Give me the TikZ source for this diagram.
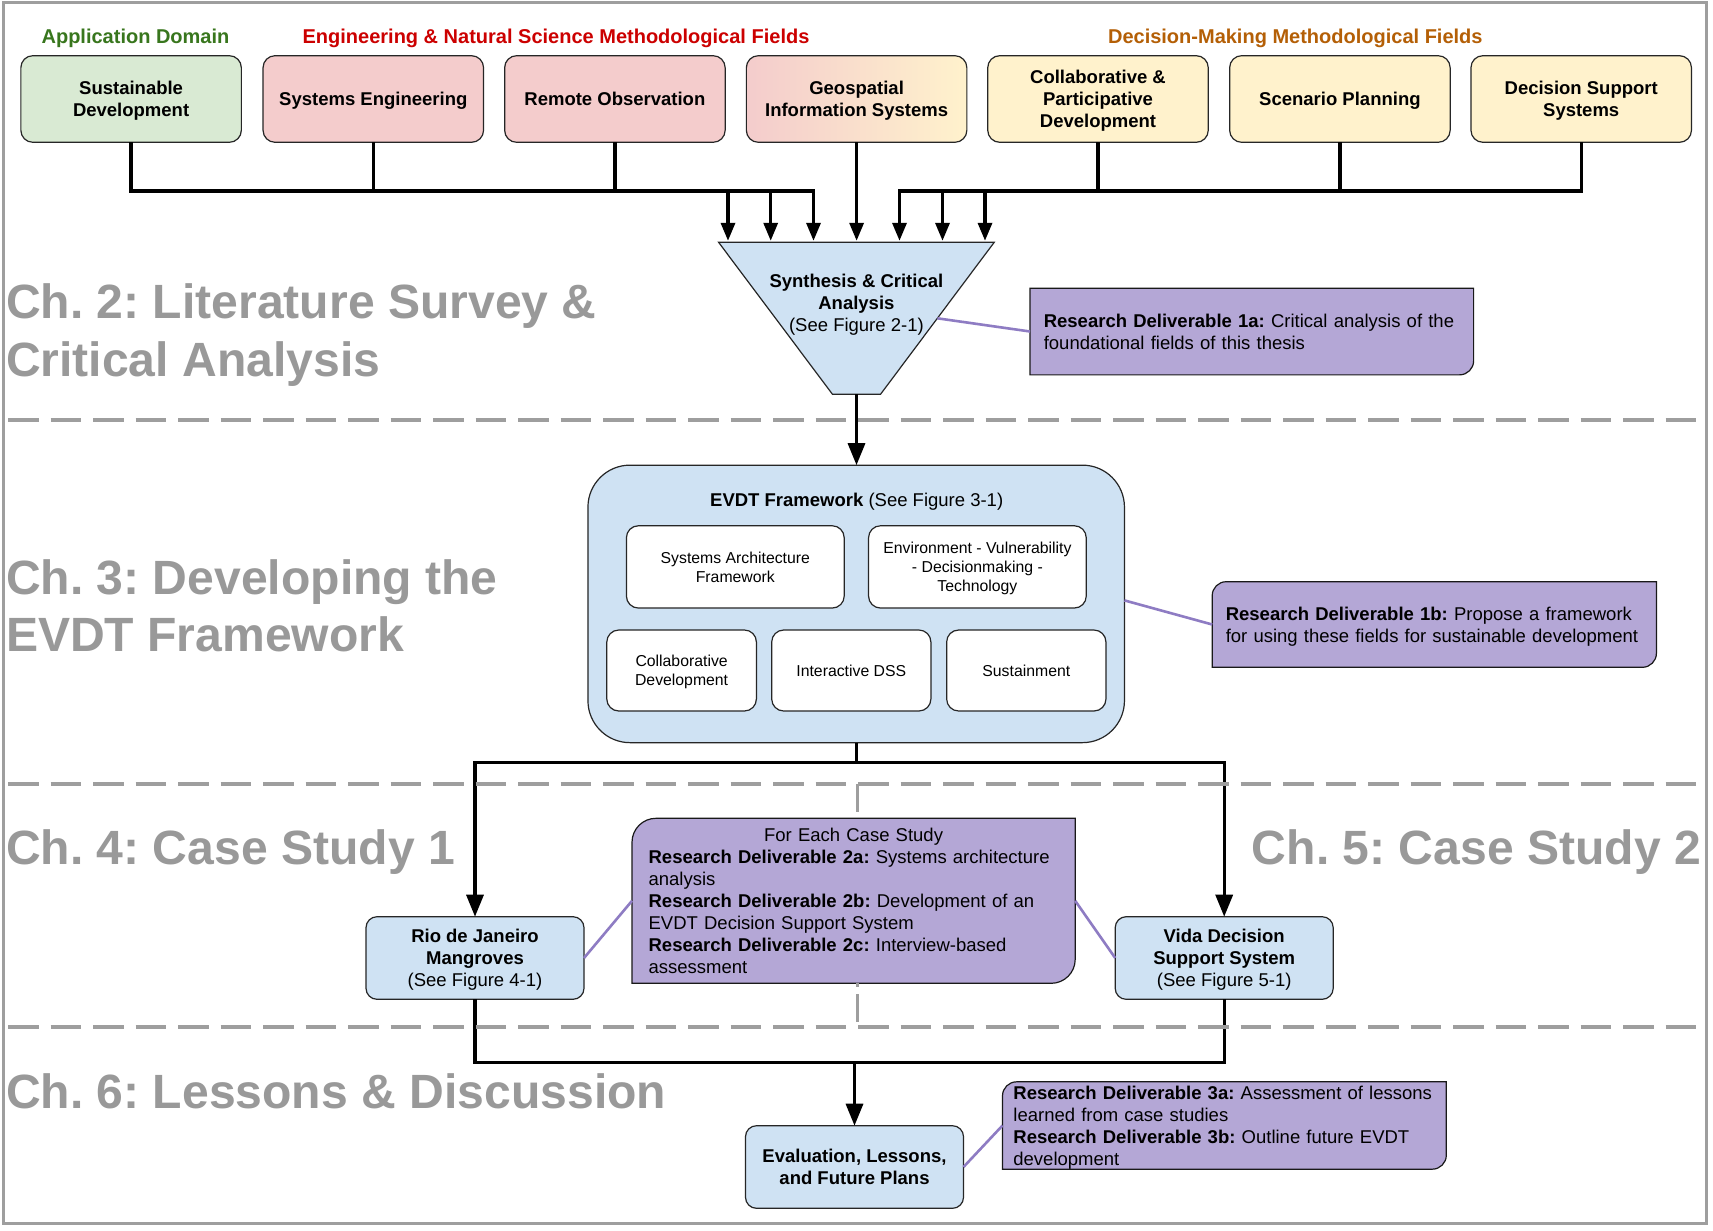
\documentclass[tikz,border=0pt]{standalone}
\usepackage{fontspec}
\setmainfont{Liberation Sans}
\usetikzlibrary{arrows.meta,calc}
\definecolor{greenfill}{HTML}{D9EAD3}
\definecolor{pinkfill}{HTML}{F4CCCC}
\definecolor{yellowfill}{HTML}{FFF2CC}
\definecolor{bluefill}{HTML}{CFE2F3}
\definecolor{purplefill}{HTML}{B4A7D6}
\definecolor{purpleline}{HTML}{8E7CC3}
\definecolor{titlegray}{HTML}{999999}
\definecolor{dashgray}{HTML}{9E9E9E}
\definecolor{headgreen}{HTML}{38761D}
\definecolor{headred}{HTML}{CC0000}
\definecolor{headorange}{HTML}{B45F06}
\pgfdeclarelayer{bg}
\pgfsetlayers{bg,main}
\frenchspacing
\begin{document}
\frenchspacing
\begin{tikzpicture}[x=1pt,y=-1pt,
 every node/.style={outer sep=0pt},
 topbox/.style={draw=black!85, line width=1.2pt, rounded corners=12pt, minimum width=220.5pt, minimum height=86.6pt, align=center, font=\bfseries\fontsize{18.5}{22}\selectfont, inner sep=0pt, text depth=0pt},
 head/.style={anchor=base, inner sep=0pt, font=\bfseries\fontsize{20}{24}\selectfont},
 chap/.style={anchor=base west, inner sep=0pt, text=titlegray, font=\bfseries\fontsize{48.1}{57}\selectfont},
 bluebox/.style={draw=black!85, line width=1.2pt, rounded corners=11pt, fill=bluefill, minimum width=218pt, minimum height=82.6pt, align=center, font=\fontsize{18.5}{22}\selectfont, inner sep=0pt, text depth=0pt},
 subbox/.style={draw=black!85, line width=1.2pt, rounded corners=12pt, fill=white, align=center, font=\fontsize{15.8}{19}\selectfont, inner sep=0pt, text depth=0pt},
 pnode/.style={inner sep=0pt, align=left, font=\fontsize{18.5}{22}\selectfont},
 pshape/.style={draw=black!90, line width=1.2pt, fill=purplefill},
 conn/.style={line width=3.3pt, draw=black},
 arrT/.style={conn, -{Triangle[length=18pt,width=14pt]}, shorten >=1.5pt},
 arrB/.style={conn, -{Triangle[length=22pt,width=17pt]}},
 pline/.style={line width=2.6pt, draw=purpleline},
 dashline/.style={line width=4pt, draw=dashgray, dash pattern=on 30.5pt off 12pt},
 vdash/.style={line width=3pt, draw=dashgray, dash pattern=on 28pt off 7pt},
]
\begin{pgfonlayer}{bg}
\fill[white] (0,0) rectangle (1713,1231);
\end{pgfonlayer}
\useasboundingbox (0,0) rectangle (1713,1231);

% headers
\node[head, text=headgreen] (h1) at (135.5,44) {Application Domain};
\node[head, text=headred] (h2) at (556,44) {Engineering \& Natural Science Methodological Fields};
\node[head, text=headorange] (h3) at (1295.3,44) {Decision-Making Methodological Fields};

% top boxes
\node[topbox, fill=greenfill] (b1) at (131.1,99) {Sustainable\\Development};
\node[topbox, fill=pinkfill] (b2) at (373.3,99) {Systems Engineering};
\node[topbox, fill=pinkfill] (b3) at (614.9,99) {Remote Observation};
\node[topbox, left color=pinkfill, right color=yellowfill] (b4) at (856.6,99) {Geospatial\\Information Systems};
\node[topbox, fill=yellowfill] (b5) at (1098,99) {Collaborative \&\\Participative\\Development};
\node[topbox, fill=yellowfill] (b6) at (1339.9,99) {Scenario Planning};
\node[topbox, fill=yellowfill] (b7) at (1581.2,99) {Decision Support\\Systems};

% funnel
\coordinate (ftl) at (718.6,242.3);
\coordinate (ftr) at (994.2,242.3);
\coordinate (fbr) at (880.5,394.3);
\coordinate (fbl) at (832.5,394.3);
\draw[draw=black!85, line width=1.2pt, fill=bluefill] (ftl) -- (ftr) -- (fbr) -- (fbl) -- cycle;
\node[align=center, inner sep=0pt, text depth=0pt, font=\fontsize{18.5}{22}\selectfont] (funnel) at (856.4,303) {\textbf{Synthesis \& Critical}\\\textbf{Analysis}\\(See Figure 2-1)};

% EVDT framework
\node[draw=black!85, line width=1.2pt, rounded corners=42pt, fill=bluefill, minimum width=536.5pt, minimum height=277.5pt, inner sep=0pt] (evdt) at (856.2,603.9) {};
\node[anchor=base, inner sep=0pt, font=\fontsize{18.5}{22}\selectfont] (evdtt) at (856.7,506.7) {\textbf{EVDT Framework} (See Figure 3-1)};
\node[subbox, minimum width=217.8pt, minimum height=82.3pt] (saf) at (735.3,566.9) {Systems Architecture\\Framework};
\node[subbox, minimum width=217.7pt, minimum height=82.3pt] (evd) at (977.4,566.9) {Environment - Vulnerability\\- Decisionmaking -\\Technology};
\node[subbox, minimum width=149.6pt, minimum height=81pt] (cd) at (681.6,670.5) {Collaborative\\Development};
\node[subbox, minimum width=159.2pt, minimum height=81pt] (idss) at (851.3,670.5) {Interactive DSS};
\node[subbox, minimum width=159.3pt, minimum height=81pt] (sus) at (1026.3,670.5) {Sustainment};

% case studies
\node[bluebox] (rio) at (475,958) {\textbf{Rio de Janeiro}\\\textbf{Mangroves}\\(See Figure 4-1)};
\node[bluebox] (vida) at (1224.2,958) {\textbf{Vida Decision}\\\textbf{Support System}\\(See Figure 5-1)};
\node[bluebox] (eval) at (854.5,1167) {\textbf{Evaluation, Lessons,}\\\textbf{and Future Plans}};

% connectors top
\coordinate (la) at (728,191);
\coordinate (lb) at (770.7,191);
\coordinate (lc) at (813.5,191);
\coordinate (ra) at (899.5,191);
\coordinate (rb) at (942.5,191);
\coordinate (rc) at (985,191);
\draw[arrT] (b1.south) |- (lc) -- (lc |- ftl);
\draw[conn] (b2.south) -- (b2.south |- lc);
\draw[conn] (b3.south) -- (b3.south |- lc);
\draw[arrT] (la) -- (la |- ftl);
\draw[arrT] (lb) -- (lb |- ftl);
\draw[arrT] (b4.south) -- (b4.south |- ftl);
\draw[arrT] (b7.south) |- (ra) -- (ra |- ftl);
\draw[conn] (b5.south) -- (b5.south |- ra);
\draw[conn] (b6.south) -- (b6.south |- ra);
\draw[arrT] (rb) -- (rb |- ftl);
\draw[arrT] (rc) -- (rc |- ftl);

% connectors lower
\coordinate (fb) at ($(fbl)!0.5!(fbr)$);
\draw[arrB] (fb) -- (fb |- evdt.north);
\coordinate (bus2) at (856.2,762.6);
\draw[conn] (evdt.south) -- (bus2);
\draw[arrB] (bus2) -| (rio.north);
\draw[arrB] (bus2) -| (vida.north);
\coordinate (bus3) at (854.5,1062.7);
\draw[conn] (rio.south) |- (bus3) -| (vida.south);
\draw[arrB] (bus3) -- (eval.north);

% section dividers
\draw[dashline] (8,419.5) -- (1705,419.5);
\draw[dashline] (8,784.4) -- (1705,784.4);
\draw[dashline] (8,1027) -- (1705,1027);

% deliverables
\node[pnode, minimum width=443.6pt, minimum height=86.7pt, text width=416pt] (d1a) at (1251.8,331.5) {\textbf{Research Deliverable 1a:} Critical analysis of the\\foundational fields of this thesis};
\node[pnode, text height=17.5pt, minimum width=444.2pt, minimum height=85.6pt, text width=417pt] (d1b) at (1434.3,624.5) {\textbf{Research Deliverable 1b:} Propose a framework\\for using these fields for sustainable development};
\node[pnode, minimum width=443.2pt, minimum height=165pt, text width=410pt] (d2) at (853.6,900.8) {\makebox[410pt]{For Each Case Study}\\\textbf{Research Deliverable 2a:} Systems architecture\\analysis\\\textbf{Research Deliverable 2b:} Development of an\\EVDT Decision Support System\\\textbf{Research Deliverable 2c:} Interview-based\\assessment};
\node[pnode, text height=17.5pt, minimum width=443.8pt, minimum height=85.6pt, text width=422pt] (d3) at (1224.4,1125.5) {\textbf{Research Deliverable 3a:} Assessment of lessons\\learned from case studies\\\textbf{Research Deliverable 3b:} Outline future EVDT\\development};

\begin{pgfonlayer}{bg}
\draw[pshape] (d1a.north west) -- (d1a.north east) -- ([yshift=14pt]d1a.south east) arc[start angle=0,end angle=-90,radius=14pt] -- (d1a.south west) -- cycle;
\draw[pshape] ([yshift=-14pt]d1b.north west) arc[start angle=180,end angle=90,radius=14pt] -- (d1b.north east) -- ([yshift=14pt]d1b.south east) arc[start angle=0,end angle=-90,radius=14pt] -- (d1b.south west) -- cycle;
\draw[pshape] ([yshift=-24pt]d2.north west) arc[start angle=180,end angle=90,radius=24pt] -- (d2.north east) -- ([yshift=24pt]d2.south east) arc[start angle=0,end angle=-90,radius=24pt] -- (d2.south west) -- cycle;
\draw[pshape] ([yshift=-14pt]d3.north west) arc[start angle=180,end angle=90,radius=14pt] -- (d3.north east) -- ([yshift=14pt]d3.south east) arc[start angle=0,end angle=-90,radius=14pt] -- (d3.south west) -- cycle;
\end{pgfonlayer}

% vertical divider between case studies
\coordinate (vtop) at (857,784.4);
\coordinate (vbot) at (857,1027);
\draw[vdash] (vtop) -- (vtop |- d2.north);
\draw[vdash, dash phase=23.9pt] (vbot |- d2.south) -- (vbot);

% deliverable links
\coordinate (fmid) at ($(ftr)!0.5!(fbr)$);
\draw[pline] (fmid) -- (d1a.west);
\draw[pline] ([yshift=3.5pt]evdt.east) -- (d1b.west);
\draw[pline] (rio.east) -- (d2.west);
\draw[pline] (d2.east) -- (vida.west);
\draw[pline] (eval.east) -- (d3.west);

% chapter titles
\node[chap] (ch2a) at (6,318) {Ch. 2: Literature Survey \&};
\node[chap] (ch2b) at (6,376) {Critical Analysis};
\node[chap] (ch3a) at (6,594) {Ch. 3: Developing the};
\node[chap] (ch3b) at (6,651) {EVDT Framework};
\node[chap] (ch4) at (6,864) {Ch. 4: Case Study 1};
\node[chap, anchor=base east] (ch5) at (1701,864) {Ch. 5: Case Study 2};
\node[chap] (ch6) at (6,1108) {Ch. 6: Lessons \& Discussion};

% outer frame
\draw[line width=3pt, draw=dashgray] (3,3) rectangle (1706,1223);
\end{tikzpicture}
\end{document}
